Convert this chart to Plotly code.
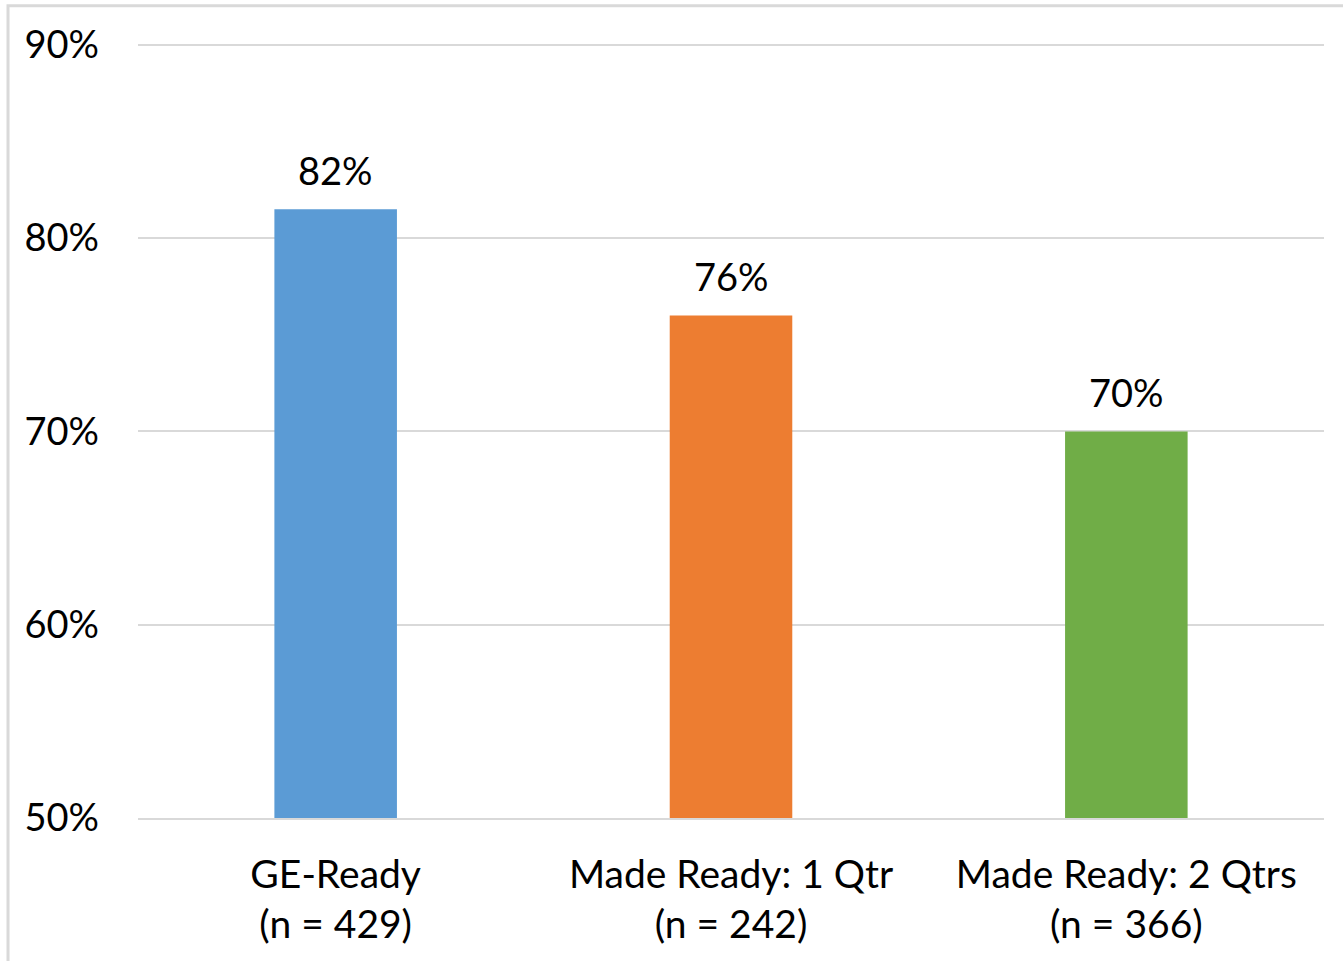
import plotly.graph_objects as go

categories = ["GE-Ready<br>(n = 429)", "Made Ready: 1 Qtr<br>(n = 242)", "Made Ready: 2 Qtrs<br>(n = 366)"]
values = [81.5, 76.0, 70.0]
bar_colors = ["#5B9BD5", "#ED7D31", "#70AD47"]
y_ticks = [50, 60, 70, 80, 90]
y_tick_labels = ["50%", "60%", "70%", "80%", "90%"]

FONT = "Lato, Calibri, sans-serif"

fig = go.Figure(
    go.Bar(
        x=categories,
        y=values,
        marker=dict(color=bar_colors, line=dict(width=0)),
        width=0.31,
        hoverinfo="skip",
    )
)

# value labels above each bar
for cat, val in zip(categories, values):
    fig.add_annotation(
        x=cat, y=val, text=f"{val:.0f}%", showarrow=False,
        yanchor="bottom", yshift=14,
        font=dict(family=FONT, size=38, color="#000000"),
    )

# light frame around the chart area
fig.add_shape(
    type="rect", xref="paper", yref="paper",
    x0=-0.1096, x1=1.2, y0=-0.5, y1=1.0455,
    line=dict(color="#d9d9d9", width=3), layer="below",
)

fig.update_layout(
    width=1343, height=961,
    margin=dict(l=138, r=19, t=41, b=143, autoexpand=False),
    paper_bgcolor="white", plot_bgcolor="white",
    showlegend=False,
    font=dict(family=FONT, size=38, color="#000000"),
    bargap=0.69,
)
# category axis line doubles as the 50% baseline
fig.update_xaxes(
    showgrid=False, zeroline=False, ticks="",
    showline=True, linecolor="#d9d9d9", linewidth=1.5,
    tickfont=dict(family=FONT, size=39, color="#000000"),
    ticklabelstandoff=21, automargin=False,
)
fig.update_yaxes(
    range=[50, 90.2], tickvals=y_ticks, ticktext=y_tick_labels,
    showgrid=True, gridcolor="#d9d9d9", gridwidth=1.5,
    zeroline=False, showline=False, ticks="",
    tickfont=dict(family=FONT, size=38, color="#000000"),
    ticklabelstandoff=38, automargin=False,
)

fig.write_html("out.html")
